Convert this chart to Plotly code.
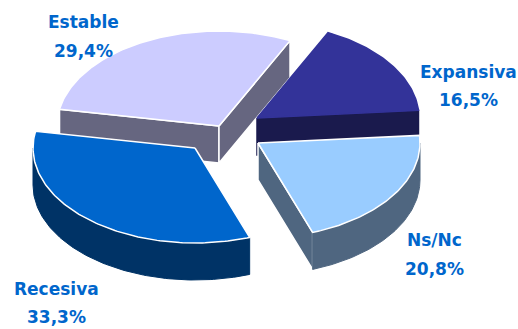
import math
import plotly.graph_objects as go

labels = ["Expansiva", "Ns/Nc", "Recesiva", "Estable"]
values = [16.5, 20.8, 33.3, 29.4]

top_colors = ["#333399", "#99CCFF", "#0066CC", "#CCCCFF"]
side_colors = ["#1A1A4D", "#4F6680", "#003366", "#666680"]
edge_colors = ["#333399", "#FFFFFF", "#FFFFFF", "#FFFFFF"]
side_edges = ["#1A1A4D", "#FFFFFF", "#003366", "#FFFFFF"]

CX, CY = 232, 132
RX, RY = 162, 95
DEPTH = 37
START = 64.0
PULL = [(25, -14), (26, 11), (-37, 16), (-13, -6)]
LABEL_POS = [(468, 72, 100), (434, 240, 269), (56, 289, 317), (83, 22, 51)]
DRAW_ORDER = [3, 0, 1, 2]


def pt(ax, ay, deg):
    r = math.radians(deg)
    return ax + RX * math.cos(r), ay - RY * math.sin(r)


def arc(ax, ay, t0, t1, step=1.0):
    n = max(2, int(abs(t1 - t0) / step) + 1)
    return [pt(ax, ay, t0 + (t1 - t0) * i / (n - 1)) for i in range(n)]


spans = []
t = START
for v in values:
    t2 = t - v / sum(values) * 360
    spans.append((t, t2))
    t = t2

fig = go.Figure()


def poly(points, fill, line, width):
    xs = [p[0] for p in points] + [points[0][0]]
    ys = [p[1] for p in points] + [points[0][1]]
    fig.add_trace(go.Scatter(x=xs, y=ys, mode="lines", fill="toself", fillcolor=fill,
                             line=dict(color=line, width=width), hoverinfo="skip",
                             showlegend=False))


for i in DRAW_ORDER:
    t0, t1 = spans[i]
    ax, ay = CX + PULL[i][0], CY + PULL[i][1]
    # radial cut faces that look towards the viewer
    for edge_t, normal in ((t0, t0 + 90), (t1, t1 - 90)):
        if math.sin(math.radians(normal)) < 0:
            ox, oy = pt(ax, ay, edge_t)
            poly([(ax, ay), (ox, oy), (ox, oy + DEPTH), (ax, ay + DEPTH)],
                 side_colors[i], side_edges[i], 1.5)
    # outer rim: the part of the arc on the lower half of the ellipse
    lo = max(t1, -180)
    hi = min(t0, 0)
    if hi > lo:
        upper = arc(ax, ay, hi, lo)
        lower = [(x, y + DEPTH) for x, y in reversed(upper)]
        poly(upper + lower, side_colors[i], side_colors[i], 1)
    # top face
    poly([(ax, ay)] + arc(ax, ay, t0, t1), top_colors[i], edge_colors[i], 1.5)

for i, (lx, y1, y2) in enumerate(LABEL_POS):
    value_text = f"{values[i]:.1f}%".replace(".", ",")
    for text, y in ((labels[i], y1), (value_text, y2)):
        fig.add_annotation(x=lx, y=y, text=f"<b>{text}</b>", showarrow=False,
                           font=dict(family="DejaVu Sans", size=17, color="#0066CC"))

fig.update_layout(width=518, height=329, margin=dict(l=0, r=0, t=0, b=0),
                  paper_bgcolor="white", plot_bgcolor="white",
                  xaxis=dict(range=[0, 518], visible=False, fixedrange=True),
                  yaxis=dict(range=[329, 0], visible=False, fixedrange=True))
fig.write_html("out.html", config={"displayModeBar": False},
               post_script="document.body.style.margin='0';document.documentElement.style.overflow='hidden';")
